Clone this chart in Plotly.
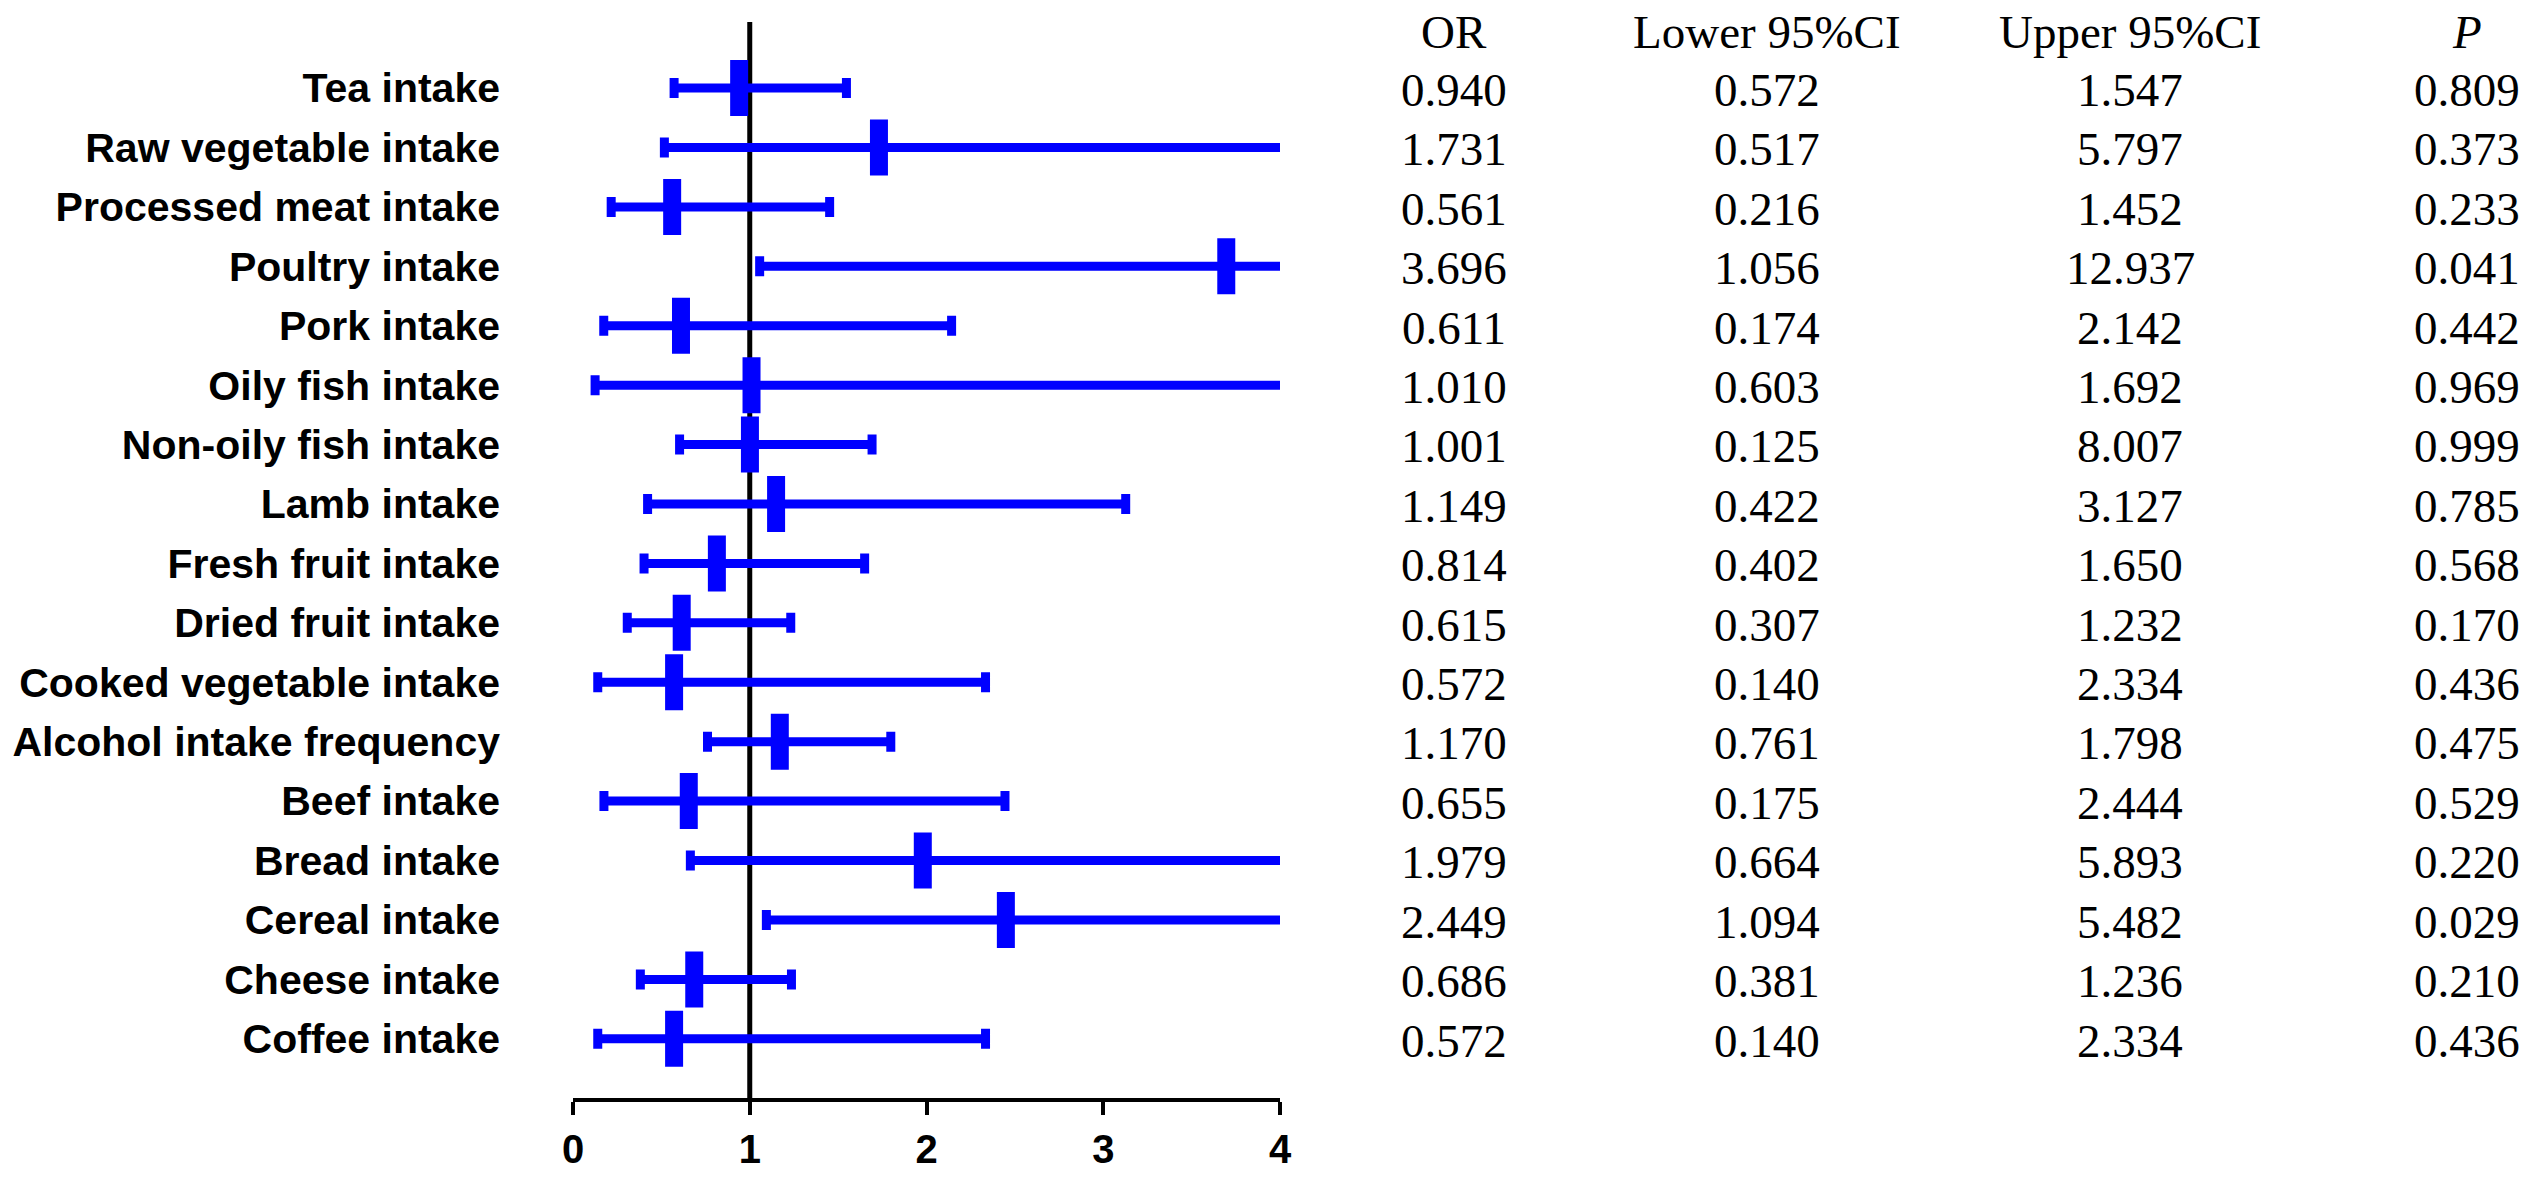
import plotly.graph_objects as go

# ---------------- data ----------------
labels = ["Tea intake", "Raw vegetable intake", "Processed meat intake", "Poultry intake",
          "Pork intake", "Oily fish intake", "Non-oily fish intake", "Lamb intake",
          "Fresh fruit intake", "Dried fruit intake", "Cooked vegetable intake",
          "Alcohol intake frequency", "Beef intake", "Bread intake", "Cereal intake",
          "Cheese intake", "Coffee intake"]

or_vals = [0.940, 1.731, 0.561, 3.696, 0.611, 1.010, 1.001, 1.149, 0.814, 0.615,
           0.572, 1.170, 0.655, 1.979, 2.449, 0.686, 0.572]
lower_ci = [0.572, 0.517, 0.216, 1.056, 0.174, 0.603, 0.125, 0.422, 0.402, 0.307,
            0.140, 0.761, 0.175, 0.664, 1.094, 0.381, 0.140]
upper_ci = [1.547, 5.797, 1.452, 12.937, 2.142, 1.692, 8.007, 3.127, 1.650, 1.232,
            2.334, 1.798, 2.444, 5.893, 5.482, 1.236, 2.334]
p_vals = ["0.809", "0.373", "0.233", "0.041", "0.442", "0.969", "0.999", "0.785",
          "0.568", "0.170", "0.436", "0.475", "0.529", "0.220", "0.029", "0.210", "0.436"]

# interval ends as drawn in the figure (the two fish rows are drawn swapped)
plot_lower = [0.572, 0.517, 0.216, 1.056, 0.174, 0.125, 0.603, 0.422, 0.402, 0.307,
              0.140, 0.761, 0.175, 0.664, 1.094, 0.381, 0.140]
plot_upper = [1.547, 5.797, 1.452, 12.937, 2.142, 8.007, 1.692, 3.127, 1.650, 1.232,
              2.334, 1.798, 2.444, 5.893, 5.482, 1.236, 2.334]

headers = ["OR", "Lower 95%CI", "Upper 95%CI", "<i>P</i>"]
x_ticks = [0, 1, 2, 3, 4]

# ---------------- figure ----------------
n = len(labels)
ypos = [n - 1 - i for i in range(n)]
blue = "#0000FF"

W, H = 2530, 1183
L, R = 570, 1280
T, B = 22, 1130

fig = go.Figure()

fig.add_trace(go.Scatter(
    x=or_vals, y=ypos, mode="markers",
    marker=dict(symbol="line-ns", size=40, color=blue, line=dict(color=blue, width=18)),
    error_x=dict(type="data", symmetric=False,
                 array=[u - o for u, o in zip(plot_upper, or_vals)],
                 arrayminus=[o - l for o, l in zip(or_vals, plot_lower)],
                 color=blue, thickness=9, width=10),
    cliponaxis=True, hoverinfo="skip", showlegend=False,
))

fig.add_shape(type="line", xref="x", yref="paper", x0=1, x1=1, y0=0, y1=1,
              line=dict(color="black", width=5), layer="below")

serif = "Liberation Serif, Times New Roman, serif"
col_x = [1455, 1769, 2134, 2472]
cols = [[f"{v:.3f}" for v in or_vals],
        [f"{v:.3f}" for v in lower_ci],
        [f"{v:.3f}" for v in upper_ci],
        p_vals]
for cx, head, vals in zip(col_x, headers, cols):
    px = (cx - L) / (R - L)
    fig.add_annotation(x=px, xref="paper", y=ypos[0] + 0.95, yref="y", text=head,
                       showarrow=False, xanchor="center", yanchor="middle",
                       font=dict(family=serif, size=47, color="black"))
    for yv, t in zip(ypos, vals):
        fig.add_annotation(x=px, xref="paper", y=yv - 0.03, yref="y", text=t,
                           showarrow=False, xanchor="center", yanchor="middle",
                           font=dict(family=serif, size=47, color="black"))

row_px = 61.19
ytop = ypos[0] + (90 - T) / row_px
ybot = ytop - (B - T) / row_px

sans = "Liberation Sans, Arial, sans-serif"
fig.update_layout(
    width=W, height=H, autosize=False,
    margin=dict(l=L, r=W - R, t=T, b=H - B, pad=0),
    plot_bgcolor="white", paper_bgcolor="white",
    xaxis=dict(range=[0, 4], tickvals=x_ticks, ticktext=[f"<b>{v}</b>" for v in x_ticks],
               showline=True, linecolor="black", linewidth=4, ticks="outside",
               ticklen=13, tickwidth=4, tickcolor="black", showgrid=False, zeroline=False,
               tickfont=dict(family=sans, size=40, color="black")),
    yaxis=dict(range=[ybot, ytop], tickvals=ypos, ticktext=[f"<b>{l}</b>" for l in labels],
               showline=False, showgrid=False, zeroline=False, ticks="",
               ticklabelstandoff=72,
               tickfont=dict(family=sans, size=41, color="black")),
)

fig.write_html("out.html", config={"displayModeBar": False},
               post_script="document.body.style.margin='0';")
